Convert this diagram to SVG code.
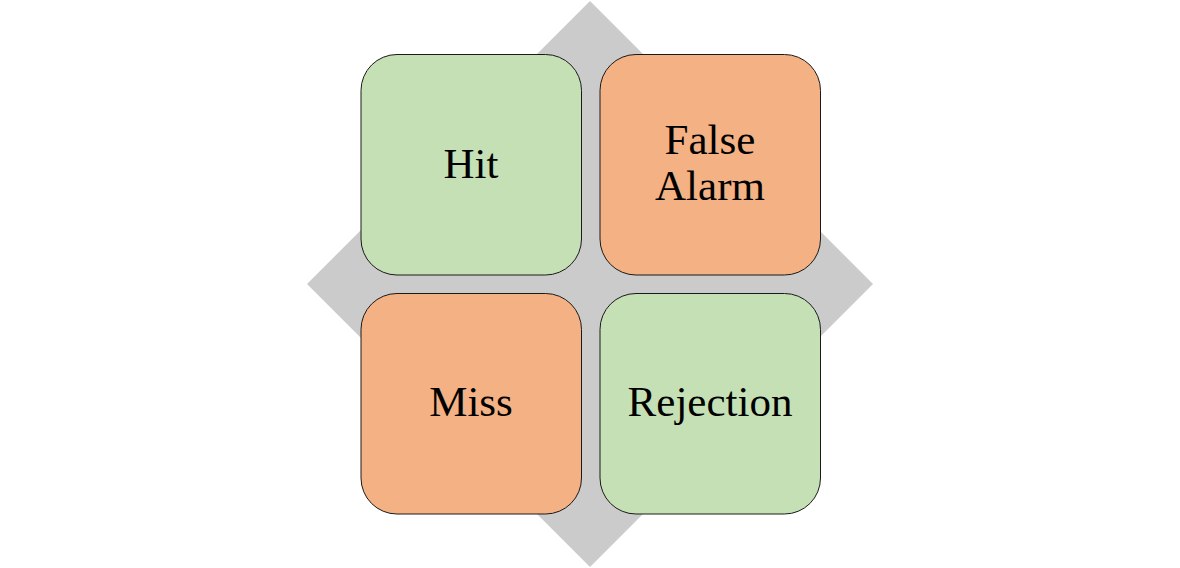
<svg xmlns="http://www.w3.org/2000/svg" width="1180" height="568" viewBox="0 0 1180 568">
<style>
.box{stroke:#1a1a1a;stroke-width:1}
.g{fill:#C5E0B4}
.o{fill:#F4B183}
.t{font-family:"Liberation Serif","DejaVu Serif",serif;font-size:43px;fill:#000;text-anchor:middle}
</style>
<rect width="1180" height="568" fill="#fff"/>
<g id="background">
<polygon points="590,1 873,284 590,567 307,284" fill="#CBCBCB"/>
</g>
<g id="hit">
<rect class="box g" x="361" y="54.5" width="220.5" height="220.5" rx="36"/>
<text class="t" x="471" y="178">Hit</text>
</g>
<g id="false-alarm">
<rect class="box o" x="600" y="54.5" width="220.5" height="220.5" rx="36"/>
<text class="t" x="710" y="154">False</text>
<text class="t" x="710" y="200">Alarm</text>
</g>
<g id="miss">
<rect class="box o" x="361" y="293.5" width="220.5" height="220.5" rx="36"/>
<text class="t" x="471" y="416">Miss</text>
</g>
<g id="rejection">
<rect class="box g" x="600" y="293.5" width="220.5" height="220.5" rx="36"/>
<text class="t" x="710" y="416">Rejection</text>
</g>
<g id="connectors"></g>
</svg>
